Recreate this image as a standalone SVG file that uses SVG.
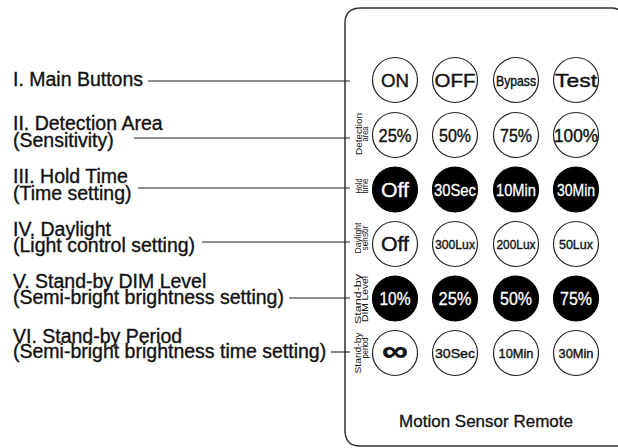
<svg xmlns="http://www.w3.org/2000/svg" width="618" height="448" viewBox="0 0 618 448">
<style>
.lbl{font-family:"Liberation Sans",Arial,sans-serif;font-size:19.5px;fill:#111;stroke:#111;stroke-width:0.35}
.btn{fill:#fff;stroke:#222;stroke-width:1.2}
.btnk{fill:#000;stroke:#000;stroke-width:1.2}
.bt{font-family:"Liberation Sans",Arial,sans-serif;text-anchor:middle;fill:#111;stroke:#111;stroke-width:0.4}
.bw{font-family:"Liberation Sans",Arial,sans-serif;text-anchor:middle;fill:#fff;stroke:#fff;stroke-width:0.3}
.side{font-family:"Liberation Sans",Arial,sans-serif;font-size:9.5px;text-anchor:middle;fill:#111}
.conn{stroke:#222;stroke-width:1.1;fill:none}
.body{fill:none;stroke:#333;stroke-width:1.5}
.title{font-family:"Liberation Sans",Arial,sans-serif;font-size:17px;text-anchor:middle;fill:#111;stroke:#111;stroke-width:0.3}
</style>
<rect width="618" height="448" fill="#fff"/>
<g id="remote">
<path class="body" d="M345,432 L345,23 Q345,8 361,8 L612,8 Q620,8 624,16"/>
<path class="body" d="M345,432 Q346,446 360,446 L620,446"/>
<text class="title" x="486" y="427">Motion Sensor Remote</text>
</g>
<g id="labels">
<g id="label-1"><text class="lbl" x="13" y="86">I. Main Buttons</text></g>
<g id="label-2"><text class="lbl" x="13" y="130">II. Detection Area</text><text class="lbl" x="13" y="147">(Sensitivity)</text></g>
<g id="label-3"><text class="lbl" x="13" y="183">III. Hold Time</text><text class="lbl" x="13" y="200">(Time setting)</text></g>
<g id="label-4"><text class="lbl" x="13" y="236">IV. Daylight</text><text class="lbl" x="13" y="252">(Light control setting)</text></g>
<g id="label-5"><text class="lbl" x="13" y="288">V. Stand-by DIM Level</text><text class="lbl" x="13" y="304">(Semi-bright brightness setting)</text></g>
<g id="label-6"><text class="lbl" x="13" y="343">VI. Stand-by Period</text><text class="lbl" x="13" y="358">(Semi-bright brightness time setting)</text></g>
</g>
<g id="connectors">
<line class="conn" x1="148" y1="81" x2="350" y2="81"/>
<line class="conn" x1="134" y1="138" x2="350" y2="138"/>
<line class="conn" x1="138" y1="188" x2="350" y2="188"/>
<line class="conn" x1="202" y1="242" x2="350" y2="242"/>
<line class="conn" x1="289" y1="298" x2="350" y2="298"/>
<line class="conn" x1="331" y1="352" x2="350" y2="352"/>
</g>
<g id="side-labels">
<g id="side-2" transform="translate(0,134) rotate(-90)"><text class="side" x="0" y="362" textLength="42" lengthAdjust="spacingAndGlyphs">Detection</text><text class="side" x="0" y="368" textLength="15" lengthAdjust="spacingAndGlyphs">area</text></g>
<g id="side-3" transform="translate(0,186) rotate(-90)"><text class="side" x="0" y="361.5" textLength="15" lengthAdjust="spacingAndGlyphs">Hold</text><text class="side" x="0" y="367.5" textLength="15" lengthAdjust="spacingAndGlyphs">time</text></g>
<g id="side-4" transform="translate(0,238) rotate(-90)"><text class="side" x="0" y="361" textLength="31" lengthAdjust="spacingAndGlyphs">Daylight</text><text class="side" x="0" y="367.5" textLength="25" lengthAdjust="spacingAndGlyphs">sensor</text></g>
<g id="side-5" transform="translate(0,299) rotate(-90)"><text class="side" x="0" y="361" textLength="50" lengthAdjust="spacingAndGlyphs">Stand-by</text><text class="side" x="0" y="368" textLength="46" lengthAdjust="spacingAndGlyphs">DIM Level</text></g>
<g id="side-6" transform="translate(0,353) rotate(-90)"><text class="side" x="0" y="361" textLength="41" lengthAdjust="spacingAndGlyphs">Stand-by</text><text class="side" x="5" y="367.5" textLength="21" lengthAdjust="spacingAndGlyphs">period</text></g>
</g>
<g id="row-1">
<g id="btn-on"><circle class="btn" cx="395" cy="80" r="22.5"/><text class="bt" x="395" y="86.5" font-size="18.5" textLength="28" lengthAdjust="spacingAndGlyphs">ON</text></g>
<g id="btn-off"><circle class="btn" cx="455" cy="80" r="22.5"/><text class="bt" x="455" y="86.5" font-size="18.5" textLength="41" lengthAdjust="spacingAndGlyphs">OFF</text></g>
<g id="btn-bypass"><circle class="btn" cx="516" cy="80" r="22.5"/><text class="bt" x="516" y="85.5" font-size="14.5" textLength="40" lengthAdjust="spacingAndGlyphs">Bypass</text></g>
<g id="btn-test"><circle class="btn" cx="576" cy="80" r="22.5"/><text class="bt" x="576" y="86.5" font-size="18.5" textLength="42" lengthAdjust="spacingAndGlyphs">Test</text></g>
</g>
<g id="row-2">
<g id="btn-d25"><circle class="btn" cx="395" cy="135" r="22.5"/><text class="bt" x="395" y="141.5" font-size="18" textLength="33" lengthAdjust="spacingAndGlyphs">25%</text></g>
<g id="btn-d50"><circle class="btn" cx="455" cy="135" r="22.5"/><text class="bt" x="455" y="141.5" font-size="18" textLength="32" lengthAdjust="spacingAndGlyphs">50%</text></g>
<g id="btn-d75"><circle class="btn" cx="516" cy="135" r="22.5"/><text class="bt" x="516" y="141.5" font-size="18" textLength="32" lengthAdjust="spacingAndGlyphs">75%</text></g>
<g id="btn-d100"><circle class="btn" cx="576" cy="135" r="22.5"/><text class="bt" x="576" y="141.5" font-size="18" textLength="44" lengthAdjust="spacingAndGlyphs">100%</text></g>
</g>
<g id="row-3">
<g id="btn-hoff"><circle class="btnk" cx="395" cy="189.5" r="22.5"/><text class="bw" x="395" y="196.5" font-size="19.5" textLength="28" lengthAdjust="spacingAndGlyphs">Off</text></g>
<g id="btn-h30s"><circle class="btnk" cx="455" cy="189.5" r="22.5"/><text class="bw" x="455" y="195.5" font-size="16.5" textLength="42" lengthAdjust="spacingAndGlyphs">30Sec</text></g>
<g id="btn-h10m"><circle class="btnk" cx="516" cy="189.5" r="22.5"/><text class="bw" x="516" y="195.5" font-size="16.5" textLength="40" lengthAdjust="spacingAndGlyphs">10Min</text></g>
<g id="btn-h30m"><circle class="btnk" cx="576" cy="189.5" r="22.5"/><text class="bw" x="576" y="195.5" font-size="16.5" textLength="38" lengthAdjust="spacingAndGlyphs">30Min</text></g>
</g>
<g id="row-4">
<g id="btn-loff"><circle class="btn" cx="395" cy="244" r="22.5"/><text class="bt" x="395" y="251" font-size="19.5" textLength="28" lengthAdjust="spacingAndGlyphs">Off</text></g>
<g id="btn-l300"><circle class="btn" cx="455" cy="244" r="22.5"/><text class="bt" x="455" y="249" font-size="13.5" textLength="40" lengthAdjust="spacingAndGlyphs">300Lux</text></g>
<g id="btn-l200"><circle class="btn" cx="516" cy="244" r="22.5"/><text class="bt" x="516" y="249" font-size="13.5" textLength="39" lengthAdjust="spacingAndGlyphs">200Lux</text></g>
<g id="btn-l50"><circle class="btn" cx="576" cy="244" r="22.5"/><text class="bt" x="576" y="249" font-size="13.5" textLength="34" lengthAdjust="spacingAndGlyphs">50Lux</text></g>
</g>
<g id="row-5">
<g id="btn-s10"><circle class="btnk" cx="395" cy="298.5" r="22.5"/><text class="bw" x="395" y="305" font-size="18" textLength="31" lengthAdjust="spacingAndGlyphs">10%</text></g>
<g id="btn-s25"><circle class="btnk" cx="455" cy="298.5" r="22.5"/><text class="bw" x="455" y="305" font-size="18" textLength="33" lengthAdjust="spacingAndGlyphs">25%</text></g>
<g id="btn-s50"><circle class="btnk" cx="516" cy="298.5" r="22.5"/><text class="bw" x="516" y="305" font-size="18" textLength="32" lengthAdjust="spacingAndGlyphs">50%</text></g>
<g id="btn-s75"><circle class="btnk" cx="576" cy="298.5" r="22.5"/><text class="bw" x="576" y="305" font-size="18" textLength="32" lengthAdjust="spacingAndGlyphs">75%</text></g>
</g>
<g id="row-6">
<g id="btn-pinf"><circle class="btn" cx="395" cy="353" r="22.5"/><text class="bt" x="395" y="361" font-size="30" font-weight="bold" textLength="26" lengthAdjust="spacingAndGlyphs">∞</text></g>
<g id="btn-p30s"><circle class="btn" cx="455" cy="353" r="22.5"/><text class="bt" x="455" y="358" font-size="13.5" textLength="40" lengthAdjust="spacingAndGlyphs">30Sec</text></g>
<g id="btn-p10m"><circle class="btn" cx="516" cy="353" r="22.5"/><text class="bt" x="516" y="358" font-size="13.5" textLength="35" lengthAdjust="spacingAndGlyphs">10Min</text></g>
<g id="btn-p30m"><circle class="btn" cx="576" cy="353" r="22.5"/><text class="bt" x="576" y="358" font-size="13.5" textLength="35" lengthAdjust="spacingAndGlyphs">30Min</text></g>
</g>
</svg>
